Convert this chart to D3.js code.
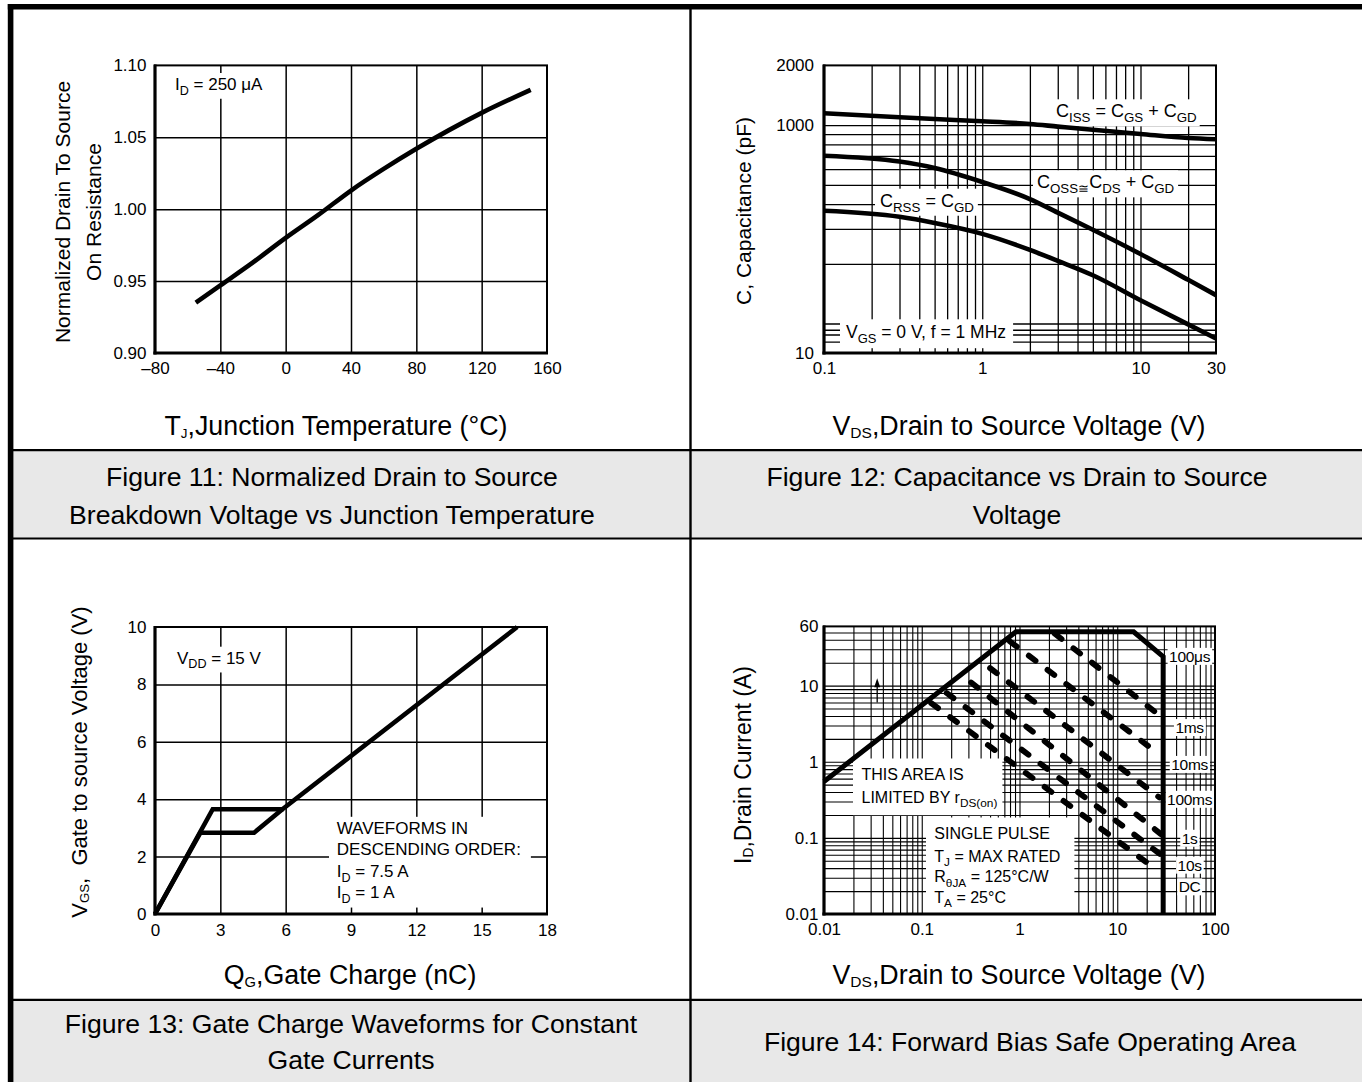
<!DOCTYPE html>
<html><head><meta charset="utf-8">
<script src="https://cdn.jsdelivr.net/npm/d3@7"></script>
<style>
body{margin:0;background:#fff}
svg{display:block}
text{font-family:"Liberation Sans",Arial,Helvetica,sans-serif;fill:#000;white-space:pre}
</style>
</head><body>
<svg id="chart" width="1362" height="1082"></svg>
<script>
// ================= DATA =================
// Figure 11: normalized on-resistance vs junction temperature
const f11Temp = [-55, -40, -20, 0, 20, 40, 60, 80, 100, 120, 150];
const f11Res  = [0.935, 0.947, 0.963, 0.980, 0.996, 1.013, 1.028, 1.042, 1.055, 1.067, 1.083];
const f11XTicks = [-80, -40, 0, 40, 80, 120, 160];
const f11YTicks = [0.90, 0.95, 1.00, 1.05, 1.10];
const f11XGrid = [-40, 0, 40, 80, 120];
const f11YGrid = [0.95, 1.00, 1.05];

// Figure 12: capacitance vs VDS
const f12Vds  = [0.1, 0.3, 0.5, 1, 2, 3, 5, 10, 20, 30];
const f12Ciss = [1147, 1095, 1073, 1046, 1013, 983, 947, 902, 861, 848];
const f12Coss = [701, 655, 608, 517, 424, 362, 297, 224, 166, 139];
const f12Crss = [370, 345, 321, 283, 235, 207, 175, 131, 99, 84];
const f12XTicks = [0.1, 1, 10, 30];
const f12XTickLabels = ["0.1", "1", "10", "30"];
const f12YTicks = [2000, 1000, 71];
const f12YTickLabels = ["2000", "1000", "10"];
const f12YGrid = [81, 88, 93, 100, 200, 300, 400, 500, 600, 700, 800, 900, 1000];

// Figure 13: gate charge
const f13QA = [0, 2.65, 5.85, 16.63];   // ID = 7.5 A
const f13VA = [0, 3.65, 3.65, 10];
const f13QB = [0, 2.08, 4.55, 5.85];    // ID = 1 A
const f13VB = [0, 2.83, 2.83, 3.65];
const f13XTicks = [0, 3, 6, 9, 12, 15, 18];
const f13YTicks = [0, 2, 4, 6, 8, 10];
const f13XGrid = [3, 6, 9, 12, 15];
const f13YGrid = [2, 4, 6, 8];

// Figure 14: safe operating area
const f14BoundV = [0.01, 0.92, 14.7, 29.5, 29.5];
const f14BoundI = [0.55, 51, 51, 24, 0.01];
const f14PulseNames  = ["1ms", "10ms", "100ms", "1s", "10s", "DC"];
const f14PulseStartV = [2.3, 0.8, 0.5, 0.32, 0.18, 0.125];
const f14PulseStartI = [48, 38, 17, 11, 8, 5.9];
const f14PulseEndV   = [24, 24.5, 27, 28, 28, 24];
const f14PulseEndI   = [4.6, 1.37, 0.34, 0.112, 0.06, 0.04];
const f14Labels   = ["100\u03bcs", "1ms", "10ms", "100ms", "1s", "10s", "DC"];
const f14LabelI   = [24.3, 2.82, 0.925, 0.322, 0.099, 0.0439, 0.0228];
const f14LabelV   = 55;
const f14XTicks = [0.01, 0.1, 1, 10, 100];
const f14XTickLabels = ["0.01", "0.1", "1", "10", "100"];
const f14YTicks = [0.01, 0.1, 1, 10, 60];
const f14YTickLabels = ["0.01", "0.1", "1", "10", "60"];
const f14ArrowV = 0.035, f14ArrowFrom = 6, f14ArrowTo = 12.5;

// ================= DRAWING =================
const W = 1362, H = 1082;
const svg = d3.select("#chart");
const FONT = '"Liberation Sans", Arial, Helvetica, sans-serif';

// page frame
const frame = svg.append("g");
frame.append("rect").attr("x", 13).attr("y", 451).attr("width", W - 13).attr("height", 87).attr("fill", "#e8e8e8");
frame.append("rect").attr("x", 13).attr("y", 1001).attr("width", W - 13).attr("height", H - 1001).attr("fill", "#e8e8e8");
[[8, W, 450.2, 450.2], [8, W, 538.5, 538.5], [8, W, 999.8, 999.8]].forEach(d =>
  frame.append("line").attr("x1", d[0]).attr("x2", d[1]).attr("y1", d[2]).attr("y2", d[3]).attr("stroke", "#000").attr("stroke-width", 2.2));
frame.append("line").attr("x1", 690.5).attr("x2", 690.5).attr("y1", 4).attr("y2", H).attr("stroke", "#000").attr("stroke-width", 2.4);
frame.append("line").attr("x1", 7.8).attr("x2", W).attr("y1", 6.8).attr("y2", 6.8).attr("stroke", "#000").attr("stroke-width", 5.6);
frame.append("line").attr("x1", 10.6).attr("x2", 10.6).attr("y1", 4).attr("y2", H).attr("stroke", "#000").attr("stroke-width", 5.6);

// rich text with subscripts: parts = strings or [subscriptString]
function rich(g, x, y, parts, size, o = {}) {
  const t = g.append("text").attr("x", x).attr("y", y).attr("font-size", size)
    .attr("text-anchor", o.anchor || "start");
  if (o.rotate) t.attr("transform", `rotate(-90,${x},${y})`);
  const subScale = o.subScale || 0.74, subShift = o.subShift == null ? 0.28 : o.subShift;
  let shift = 0;
  parts.forEach(p => {
    const isSub = Array.isArray(p);
    const target = isSub ? size * subShift : 0;
    const ts = t.append("tspan").text(isSub ? p[0] : p).attr("dy", target - shift);
    if (isSub) ts.attr("font-size", size * subScale);
    shift = target;
  });
  return t;
}
function box(layer, textSel, pl, pr, pt, pb, bottom) {
  const b = textSel.node().getBBox();
  const y0 = b.y - pt;
  const y1 = bottom != null ? bottom : b.y + b.height + pb;
  layer.append("rect").attr("x", b.x - pl).attr("y", y0).attr("width", b.width + pl + pr)
    .attr("height", y1 - y0).attr("fill", "#fff");
}
function grid(g, scale, vals, orient, P, w) {
  const ax = orient === "x"
    ? d3.axisBottom(scale).tickValues(vals).tickSize(-(P.b - P.t)).tickFormat("")
    : d3.axisLeft(scale).tickValues(vals).tickSize(-(P.r - P.l)).tickFormat("");
  const gg = g.append("g").attr("transform", orient === "x" ? `translate(0,${P.b})` : `translate(${P.l},0)`).call(ax);
  gg.select(".domain").remove();
  gg.selectAll("line").attr("stroke", "#000").attr("stroke-width", w);
}
function tickAxis(g, scale, vals, fmt, orient, P, pad, size) {
  const ax = (orient === "x" ? d3.axisBottom(scale) : d3.axisLeft(scale))
    .tickValues(vals).tickSize(0).tickPadding(pad).tickFormat(fmt);
  const gg = g.append("g").attr("transform", orient === "x" ? `translate(0,${P.b})` : `translate(${P.l},0)`).call(ax);
  gg.select(".domain").remove();
  gg.attr("font-family", FONT).attr("font-size", size);
  gg.selectAll("text").attr("fill", "#000");
}
function plotFrame(g, P) {
  g.append("rect").attr("x", P.l).attr("y", P.t).attr("width", P.r - P.l).attr("height", P.b - P.t)
    .attr("fill", "none").attr("stroke", "#000").attr("stroke-width", 2);
  g.append("line").attr("x1", P.l).attr("x2", P.l).attr("y1", P.t - 1).attr("y2", P.b + 1.5).attr("stroke", "#000").attr("stroke-width", 3.2);
  g.append("line").attr("x1", P.l - 1.6).attr("x2", P.r + 1).attr("y1", P.b).attr("y2", P.b).attr("stroke", "#000").attr("stroke-width", 3.2);
}
function caption(lines, cx, y0, dy) {
  lines.forEach((s, i) => svg.append("text").attr("x", cx).attr("y", y0 + i * dy).attr("text-anchor", "middle")
    .attr("font-size", 26.6).text(s));
}
const TICK = 17;
const XT = 26.8;

// ---------- Figure 11 ----------
{
  const P = {l: 155, r: 547, t: 65.4, b: 353};
  const g = svg.append("g");
  const x = d3.scaleLinear().domain([-80, 160]).range([P.l, P.r]);
  const y = d3.scaleLinear().domain([0.90, 1.10]).range([P.b, P.t]);
  grid(g, x, f11XGrid, "x", P, 1.5);
  grid(g, y, f11YGrid, "y", P, 1.5);
  const boxes = g.append("g"), texts = g.append("g");
  const ann = rich(texts, 175, 90, ["I", ["D"], " = 250 \u03bcA"], 17);
  box(boxes, ann, 3, 3, 2, 1);
  plotFrame(g, P);
  g.append("path").datum(f11Temp.map((t, i) => [t, f11Res[i]]))
    .attr("d", d3.line().x(d => x(d[0])).y(d => y(d[1])).curve(d3.curveMonotoneX))
    .attr("fill", "none").attr("stroke", "#000").attr("stroke-width", 4.6);
  g.node().appendChild(texts.node());
  tickAxis(g, x, f11XTicks, d => d < 0 ? "\u2013" + Math.abs(d) : String(d), "x", P, 9, TICK);
  tickAxis(g, y, f11YTicks, d3.format(".2f"), "y", P, 8.5, TICK);
  rich(g, 70, 212, ["Normalized Drain To Source"], 21, {anchor: "middle", rotate: true});
  rich(g, 101, 212, ["On Resistance"], 21, {anchor: "middle", rotate: true});
  rich(g, 336, 435, ["T", ["J"], ",Junction Temperature (\u00b0C)"], XT, {anchor: "middle", subScale: 0.5, subShift: 0.12});
  caption(["Figure 11: Normalized Drain to Source", "Breakdown Voltage vs Junction Temperature"], 332, 485.5, 38);
}

// ---------- Figure 12 ----------
{
  const P = {l: 824, r: 1216, t: 65.4, b: 353};
  const g = svg.append("g");
  const x = d3.scaleLog().domain([0.1, 30]).range([P.l, P.r]);
  const y = d3.scaleLog().domain([71, 2000]).range([P.b, P.t]);
  grid(g, x, x.ticks().filter(v => v > 0.1 && v < 30), "x", P, 1.3);
  grid(g, y, f12YGrid, "y", P, 1.3);
  const boxes = g.append("g"), texts = g.append("g");
  const t1 = rich(texts, 1056, 117.3, ["C", ["ISS"], " = C", ["GS"], " + C", ["GD"]], 18);
  const t2 = rich(texts, 1037, 188.3, ["C", ["OSS"], ["\u2245"], "C", ["DS"], " + C", ["GD"]], 18);
  const t3 = rich(texts, 880, 206.7, ["C", ["RSS"], " = C", ["GD"]], 18);
  const t4 = rich(texts, 846, 338.3, ["V", ["GS"], " = 0 V, f = 1 MHz"], 17.5);
  box(boxes, t1, 3, 3, 2, 1);
  box(boxes, t2, 4, 4, 2, 1);
  box(boxes, t3, 5, 4, 2, 1);
  box(boxes, t4, 6, 7, 3, 2);
  plotFrame(g, P);
  const line = d3.line().x(d => x(d[0])).y(d => y(d[1])).curve(d3.curveMonotoneX);
  [f12Ciss, f12Coss, f12Crss].forEach(series =>
    g.append("path").datum(f12Vds.map((v, i) => [v, series[i]])).attr("d", line)
      .attr("fill", "none").attr("stroke", "#000").attr("stroke-width", 4.6));
  g.node().appendChild(texts.node());
  tickAxis(g, x, f12XTicks, (d, i) => f12XTickLabels[i], "x", P, 8.5, TICK);
  tickAxis(g, y, f12YTicks, (d, i) => f12YTickLabels[i], "y", P, 10, TICK);
  rich(g, 751, 211, ["C, Capacitance (pF)"], 21, {anchor: "middle", rotate: true});
  rich(g, 1019, 435, ["V", ["DS"], ",Drain to Source Voltage (V)"], XT, {anchor: "middle", subScale: 0.58, subShift: 0.1});
  caption(["Figure 12: Capacitance vs Drain to Source", "Voltage"], 1017, 485.5, 38);
}

// ---------- Figure 13 ----------
{
  const P = {l: 155, r: 547, t: 627, b: 914};
  const g = svg.append("g");
  const x = d3.scaleLinear().domain([0, 18]).range([P.l, P.r]);
  const y = d3.scaleLinear().domain([0, 10]).range([P.b, P.t]);
  grid(g, x, f13XGrid, "x", P, 1.5);
  grid(g, y, f13YGrid, "y", P, 1.5);
  const boxes = g.append("g"), texts = g.append("g");
  const a = rich(texts, 177, 663.7, ["V", ["DD"], " = 15 V"], 17);
  box(boxes, a, 3, 3, 2, 1);
  const wf = texts.append("g");
  rich(wf, 336.7, 833.8, ["WAVEFORMS IN"], 17);
  rich(wf, 336.7, 854.5, ["DESCENDING ORDER:"], 17);
  rich(wf, 336.7, 877, ["I", ["D"], " = 7.5 A"], 17);
  rich(wf, 336.7, 897.8, ["I", ["D"], " = 1 A"], 17);
  box(boxes, wf, 7.7, 10, 2, 2);
  plotFrame(g, P);
  const line = d3.line().x(d => x(d[0])).y(d => y(d[1]));
  [[f13QB, f13VB], [f13QA, f13VA]].forEach(([q, v]) =>
    g.append("path").datum(q.map((qq, i) => [qq, v[i]])).attr("d", line)
      .attr("fill", "none").attr("stroke", "#000").attr("stroke-width", 4.6).attr("stroke-linejoin", "miter"));
  g.node().appendChild(texts.node());
  tickAxis(g, x, f13XTicks, d3.format("d"), "x", P, 10, TICK);
  tickAxis(g, y, f13YTicks, d3.format("d"), "y", P, 8.5, TICK);
  rich(g, 86.5, 762, ["V", ["GS"], ",  Gate to source Voltage (V)"], 22, {anchor: "middle", rotate: true, subScale: 0.6, subShift: 0.1});
  rich(g, 350, 984, ["Q", ["G"], ",Gate Charge (nC)"], XT, {anchor: "middle", subScale: 0.55, subShift: 0.1});
  caption(["Figure 13: Gate Charge Waveforms for Constant", "Gate Currents"], 351, 1032.6, 36.5);
}

// ---------- Figure 14 ----------
{
  const P = {l: 824, r: 1215, t: 626.4, b: 914};
  const g = svg.append("g");
  const x = d3.scaleLog().domain([0.01, 100]).range([P.l, P.r]);
  const y = d3.scaleLog().domain([0.01, 60]).range([P.b, P.t]);
  grid(g, x, x.ticks().filter(v => v > 0.01 && v < 100), "x", P, 1.1);
  grid(g, y, y.ticks().filter(v => v > 0.01 && v < 60), "y", P, 1.1);
  const boxes = g.append("g"), texts = g.append("g");
  const area = texts.append("g");
  rich(area, 861.5, 780, ["THIS AREA IS"], 16);
  rich(area, 861.5, 802.7, ["LIMITED BY r", ["DS(on)"]], 16);
  box(boxes, area, 8.5, 5, 7.5, 5);
  const sp = texts.append("g");
  rich(sp, 934.3, 839, ["SINGLE PULSE"], 16);
  rich(sp, 934.3, 861.5, ["T", ["J"], " = MAX RATED"], 16);
  rich(sp, 934.3, 882.2, ["R", ["\u03b8JA"], " = 125\u00b0C/W"], 16);
  rich(sp, 934.3, 903, ["T", ["A"], " = 25\u00b0C"], 16);
  box(boxes, sp, 8.3, 14, 7.5, 0, P.b - 1);
  f14Labels.forEach((s, i) => {
    const t = texts.append("text").attr("x", x(f14LabelV)).attr("y", y(f14LabelI[i])).attr("dy", "0.36em")
      .attr("text-anchor", "middle").attr("font-size", 15.5).attr("letter-spacing", -0.3).text(s);
    box(boxes, t, 1.5, 1.5, 0, 0);
  });
  plotFrame(g, P);
  // pulse lines
  f14PulseNames.forEach((n, i) => {
    g.append("path").datum([[f14PulseStartV[i], f14PulseStartI[i]], [f14PulseEndV[i], f14PulseEndI[i]]])
      .attr("d", d3.line().x(d => x(d[0])).y(d => y(d[1])))
      .attr("fill", "none").attr("stroke", "#000").attr("stroke-width", 5.8)
      .attr("stroke-linecap", "round").attr("stroke-dasharray", "8.5,15");
  });
  // boundary
  g.append("path").datum(f14BoundV.map((v, i) => [v, f14BoundI[i]]))
    .attr("d", d3.line().x(d => x(d[0])).y(d => y(d[1])))
    .attr("fill", "none").attr("stroke", "#000").attr("stroke-width", 5).attr("stroke-linejoin", "miter");
  // arrow
  const ax = x(f14ArrowV), ay0 = y(f14ArrowFrom), ay1 = y(f14ArrowTo);
  g.append("line").attr("x1", ax).attr("x2", ax).attr("y1", ay0).attr("y2", ay1 + 6).attr("stroke", "#000").attr("stroke-width", 1.3);
  g.append("path").attr("d", `M${ax},${ay1}L${ax - 3},${ay1 + 9}L${ax + 3},${ay1 + 9}Z`).attr("fill", "#000");
  g.node().appendChild(texts.node());
  tickAxis(g, x, f14XTicks, (d, i) => f14XTickLabels[i], "x", P, 9, TICK);
  tickAxis(g, y, f14YTicks, (d, i) => f14YTickLabels[i], "y", P, 5.5, TICK);
  rich(g, 751, 765, ["I", ["D"], ",Drain Current (A)"], 23, {anchor: "middle", rotate: true, subScale: 0.6, subShift: 0.1});
  rich(g, 1019, 984, ["V", ["DS"], ",Drain to Source Voltage (V)"], XT, {anchor: "middle", subScale: 0.58, subShift: 0.1});
  caption(["Figure 14: Forward Bias Safe Operating Area"], 1030, 1050.5, 36);
}
</script>
</body></html>
